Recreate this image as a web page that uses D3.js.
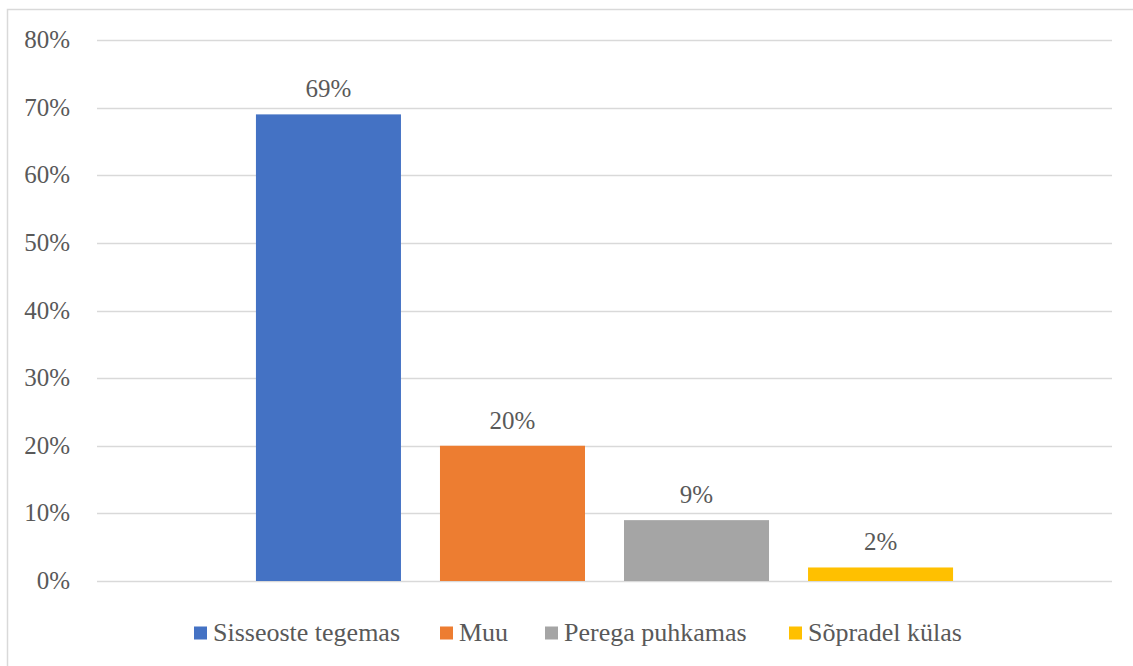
<!DOCTYPE html>
<html>
<head>
<meta charset="utf-8">
<script src="https://cdn.jsdelivr.net/npm/d3@7"></script>
</head>
<body style="margin:0">
<div id="chart"></div>
<script>
const series = ["Sisseoste tegemas", "Muu", "Perega puhkamas", "Sõpradel külas"];
const values = [0.69, 0.20, 0.09, 0.02];
const colors = ["#4472c4", "#ed7d31", "#a5a5a5", "#ffc000"];
const yTicks = [0, 0.1, 0.2, 0.3, 0.4, 0.5, 0.6, 0.7, 0.8];

const width = 1133, height = 666;
const plot = { left: 97, right: 1112, top: 40, bottom: 581 };

const svg = d3.select("#chart").append("svg")
  .attr("width", width)
  .attr("height", height);

// chart frame
svg.append("rect")
  .attr("x", 7.5).attr("y", 9.5)
  .attr("width", 1140).attr("height", 680)
  .attr("fill", "#fff")
  .attr("stroke", "#d9d9d9")
  .attr("stroke-width", 1.5);

const y = d3.scaleLinear().domain([0, 0.8]).range([plot.bottom, plot.top]);

// one category, four series side by side
const x0 = d3.scaleBand().domain(["all"]).range([plot.left, plot.right]).paddingInner(0).paddingOuter(0.228);
const x1 = d3.scaleBand().domain(series).range([x0("all"), x0("all") + x0.bandwidth()]).paddingInner(0.212).paddingOuter(0);

// gridlines
svg.append("g")
  .selectAll("line")
  .data(yTicks)
  .join("line")
  .attr("x1", plot.left).attr("x2", plot.right)
  .attr("y1", d => Math.round(y(d)) + 0.5)
  .attr("y2", d => Math.round(y(d)) + 0.5)
  .attr("stroke", "#d9d9d9")
  .attr("stroke-width", 1.5);

// y labels
svg.append("g")
  .selectAll("text")
  .data(yTicks)
  .join("text")
  .attr("x", 70)
  .attr("y", d => y(d) + 8)
  .attr("text-anchor", "end")
  .style("fill", "#595959")
  .style("font-family", "Liberation Serif")
  .style("font-size", "25px")
  .text(d => d3.format(".0%")(d));

// bars
svg.append("g")
  .selectAll("rect")
  .data(series)
  .join("rect")
  .attr("x", d => x1(d))
  .attr("width", x1.bandwidth())
  .attr("y", (d, i) => y(values[i]))
  .attr("height", (d, i) => plot.bottom - y(values[i]))
  .attr("fill", (d, i) => colors[i]);

// data labels
svg.append("g")
  .selectAll("text")
  .data(series)
  .join("text")
  .attr("x", d => x1(d) + x1.bandwidth() / 2)
  .attr("y", (d, i) => y(values[i]) - 17)
  .attr("text-anchor", "middle")
  .style("fill", "#595959")
  .style("font-family", "Liberation Serif")
  .style("font-size", "25px")
  .text((d, i) => d3.format(".0%")(values[i]));

// legend
const legendX = [194, 440, 545, 789];
const legend = svg.append("g")
  .selectAll("g")
  .data(series)
  .join("g")
  .attr("transform", (d, i) => `translate(${legendX[i]},633)`);

legend.append("rect")
  .attr("x", 0).attr("y", -6.5)
  .attr("width", 13).attr("height", 13)
  .attr("fill", (d, i) => colors[i]);

legend.append("text")
  .attr("x", 19)
  .attr("y", 8)
  .style("fill", "#595959")
  .style("font-family", "Liberation Serif")
  .style("font-size", "26px")
  .text(d => d);
</script>
</body>
</html>
